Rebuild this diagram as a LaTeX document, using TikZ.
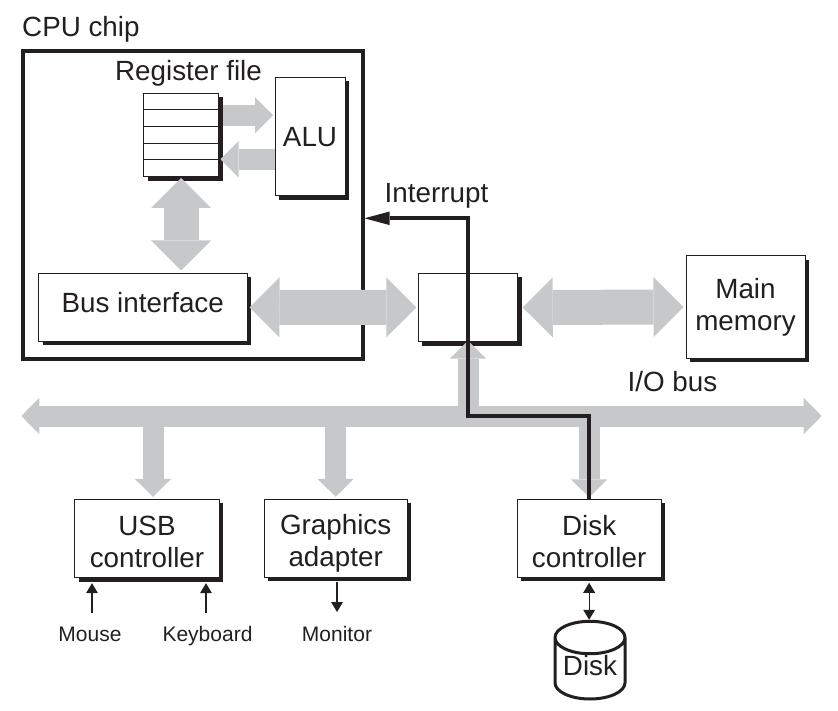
\documentclass[tikz,border=0pt]{standalone}
\usepackage{fontspec}
\setmainfont{Liberation Sans}
\usetikzlibrary{arrows.meta}
\usetikzlibrary{shadows}
\usetikzlibrary{shapes.geometric}
\definecolor{busgrey}{HTML}{C6C8CA}
\definecolor{inkblack}{HTML}{231F20}
\newcommand{\toproom}[1]{\rule{0pt}{#1}}

\begin{document}
\begin{tikzpicture}[x=1pt,y=-1pt,color=inkblack]
    \tikzstyle{every node}=[font=\fontsize{27.8}{32}\selectfont,align=center,inner sep=0pt]
    \tikzstyle{box}=[draw,rectangle,fill=white,line width=1pt,
        drop shadow={shadow xshift=4pt,shadow yshift=-4pt,fill=inkblack,opacity=1}]
    \tikzstyle{smalltext}=[font=\fontsize{21}{24}\selectfont,anchor=base]
    \tikzstyle{thinbus}=[draw=busgrey,line width=21pt,>={Triangle[length=18pt,width=36.5pt,line width=0pt]}]
    \tikzstyle{thickbus}=[draw=busgrey,line width=35pt,>={Triangle[length=30pt,width=60pt,line width=0pt]}]
    \tikzstyle{signal}=[line width=1.2pt,>={Triangle[length=10pt,width=12pt,line width=0pt]}]

    \useasboundingbox (0,0) rectangle (838,711);

    \node[draw,rectangle,line width=4pt,minimum width=339.5pt,minimum height=307pt] (cpu) at (192.75,205) {};
    \node[anchor=base west] (cpu_label) at (22,37) {CPU chip};

    \node[box,minimum width=75pt,minimum height=83.5pt] (reg) at (181,135.25) {};
    \foreach \i in {1,...,4} {
        \draw[line width=1pt] ([yshift=-\i*16.7pt]reg.north west) -- ([yshift=-\i*16.7pt]reg.north east);
    }
    \node[anchor=base] (reg_label) at (188.5,81) {Register file};
    \node[box,minimum width=70pt,minimum height=118.5pt] (alu) at (310,136.75) {ALU};
    \node[box,minimum width=208.5pt,minimum height=67.5pt,text depth=10pt] (busif) at (142.75,307.25) {Bus interface};
    \node[box,minimum width=99.4pt,minimum height=68.4pt] (bridge) at (468,307.5) {};
    \node[box,minimum width=119pt,minimum height=102pt] (mem) at (745.5,307) {Main\\memory};
    \node[box,minimum width=144.6pt,minimum height=78.4pt] (usb) at (147,538.5) {\toproom{26pt}USB\\controller};
    \node[box,minimum width=142.7pt,minimum height=78pt] (gfx) at (335.65,538.3) {\toproom{30pt}Graphics\\adapter};
    \node[box,minimum width=143.7pt,minimum height=78pt] (dctl) at (589.15,538.3) {\toproom{26pt}Disk\\controller};
    \node[draw,cylinder,shape border rotate=90,aspect=0.6,line width=3pt,minimum width=70pt,minimum height=75pt,text depth=7.4pt,anchor=south] (disk) at (590,700.5) {Disk};

    \node[anchor=base] (intr_label) at (436.5,203) {Interrupt};
    \node[anchor=base] (io_label) at (672.5,391.7) {I/O bus};
    \node[smalltext] (mouse) at (90,641.7) {Mouse};
    \node[smalltext] (keyboard) at (207.5,641.7) {Keyboard};
    \node[smalltext] (monitor) at (337,641.7) {Monitor};

    \coordinate (iobus) at (0,416);
    \coordinate (intr) at (0,218.3);
    \coordinate (bus_left) at (21.3,416);
    \coordinate (bus_right) at (821.7,416);
    \coordinate (mouse_in) at (92,613);
    \coordinate (keyboard_in) at (206,613);
    \coordinate (monitor_out) at (337,612);

    % grey buses
    \draw[thinbus,<->] (bus_left) -- (bus_right);
    \draw[thinbus,->,shorten <=3.5pt,shorten >=1.5pt] ([yshift=20pt]reg.east) -- ([yshift=20pt]reg.east -| alu.west);
    \draw[thinbus,->,shorten >=1.5pt] ([yshift=-24pt]reg.east -| alu.west) -- ([yshift=-24pt]reg.east);
    \draw[thickbus,<->,shorten <=0.5pt,shorten >=2.5pt] (reg.south) -- (reg.south |- busif.north);
    \draw[thickbus,<->,shorten <=2pt,shorten >=1.5pt] (busif.east) -- (bridge.west);
    \draw[thickbus,<->,shorten <=4.5pt,shorten >=2pt] (bridge.east) -- (mem.west);
    \draw[thinbus,->,shorten >=-1.5pt] (iobus -| bridge.south) -- (bridge.south);
    \draw[thinbus,->,shorten >=2pt] ([xshift=6pt]usb.north |- iobus) -- ([xshift=6pt]usb.north);
    \draw[thinbus,->,shorten >=2pt] (gfx.north |- iobus) -- (gfx.north);
    \draw[thinbus,->,shorten >=1.5pt] (dctl.north |- iobus) -- (dctl.north);

    % interrupt line
    \draw[line width=4.2pt,>={Triangle[length=25pt,width=13.5pt,line width=0pt]},->] (dctl.north) -- (dctl.north |- iobus) -- (bridge.center |- iobus) -- (bridge.center |- intr) -- (cpu.east |- intr);

    \draw[signal,->,shorten >=5pt] (mouse_in) -- (mouse_in |- usb.south);
    \draw[signal,->,shorten >=5pt] (keyboard_in) -- (keyboard_in |- usb.south);
    \draw[signal,->,shorten <=4pt] (monitor_out |- gfx.south) -- (monitor_out);
    \draw[signal,<->,shorten <=5pt,shorten >=0pt] (dctl.south) -- (dctl.south |- disk.north);
\end{tikzpicture}
\end{document}
